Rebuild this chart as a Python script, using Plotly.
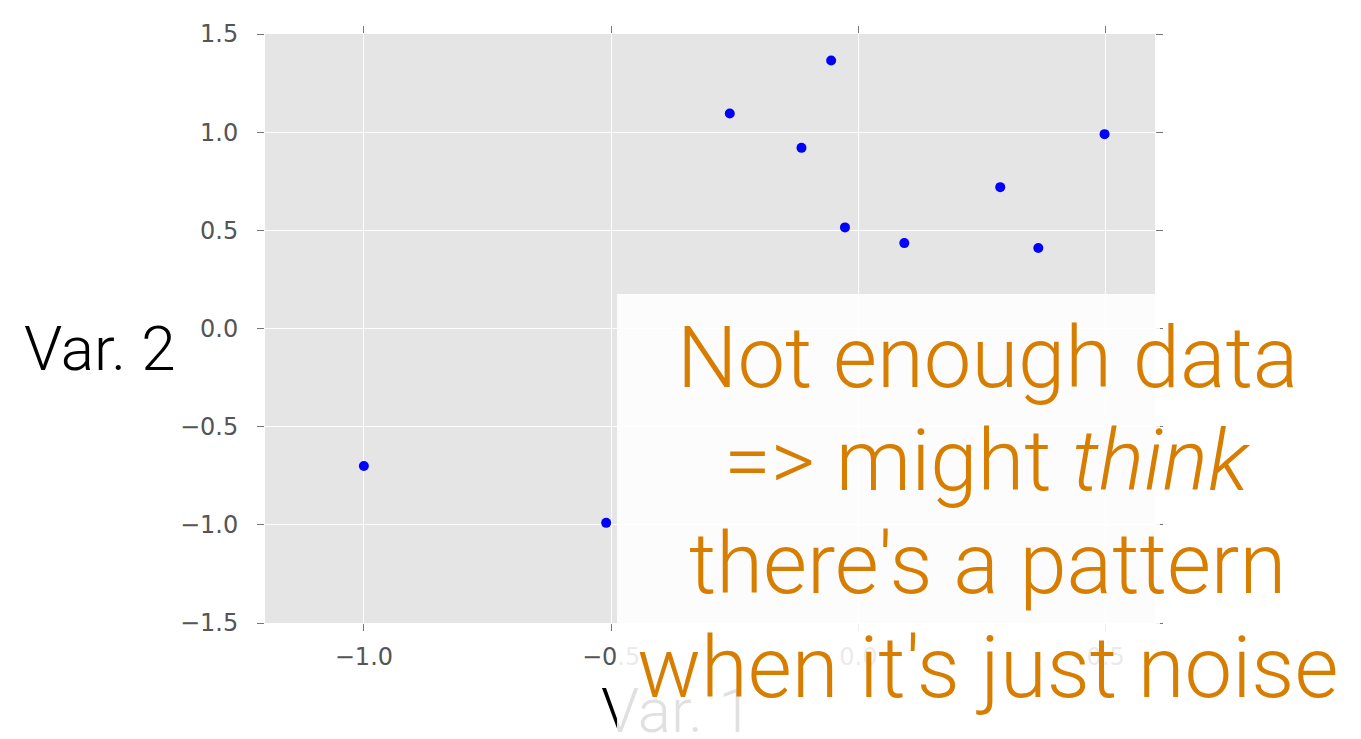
import plotly.graph_objects as go

# ---- data ----
var1 = [-1.0, -0.51, -0.26, -0.115, -0.055, -0.027, 0.093, 0.287, 0.364, 0.498]
var2 = [-0.70, -0.99, 1.095, 0.92, 1.365, 0.515, 0.435, 0.72, 0.41, 0.99]
x_ticks = [-1.0, -0.5, 0.0, 0.5]
y_ticks = [-1.5, -1.0, -0.5, 0.0, 0.5, 1.0, 1.5]
x_label = "Var. 1"
y_label = "Var. 2"
note_lines = ["Not enough data", "=> might <i>think</i>", "there's a pattern", "when it's just noise"]

W, H = 1361, 739
OFF = 8  # page body margin offset
L, R, T, B = 265 - OFF, 1155 - OFF, 29 - OFF, 623 - OFF


def px(xp):
    return (xp - OFF - L) / (R - L)


def py(yp):
    return (B - (yp - OFF)) / (B - T)


fig = go.Figure()
fig.add_trace(go.Scatter(
    x=var1, y=var2, mode="markers",
    marker=dict(color="#0000FF", size=10, line=dict(width=0)),
    showlegend=False,
))

axis_common = dict(
    showgrid=True, gridcolor="#FFFFFF", gridwidth=1.2,
    zeroline=False, showline=False,
    ticks="outside", ticklen=7, tickwidth=1, tickcolor="#777777",
    mirror="ticks",
    tickfont=dict(family="DejaVu Sans", size=24, color="#555555"),
)

fig.update_xaxes(range=[-1.2, 0.6], tickvals=x_ticks,
                 ticktext=[f"{v:.1f}".replace("-", "\u2212") for v in x_ticks],
                 ticklabelstandoff=5, **axis_common)
fig.update_yaxes(range=[-1.5, 1.5], tickvals=y_ticks,
                 ticktext=[f"{v:.1f}".replace("-", "\u2212") for v in y_ticks],
                 ticklabelstandoff=14, **axis_common)

label_font = dict(family="Roboto", size=62, color="#000000", weight=300)
note_font = dict(family="Roboto", size=85, color="#D77D00", weight=300)

annotations = [
    dict(text=y_label, xref="paper", yref="paper", x=px(100), y=py(346),
         xanchor="center", yanchor="middle", showarrow=False, font=label_font),
    dict(text=x_label, xref="paper", yref="paper", x=px(677), y=py(711),
         xanchor="center", yanchor="middle", showarrow=False, font=label_font),
    dict(text=" ", xref="paper", yref="paper", x=px(617), y=py(291),
         xanchor="left", yanchor="top", showarrow=False,
         width=543, height=470, bgcolor="rgba(255,255,255,0.88)",
         borderpad=0, borderwidth=0, font=dict(size=10)),
]
baselines = [385, 489, 593, 697]
for line, bl in zip(note_lines, baselines):
    annotations.append(dict(text=line, xref="paper", yref="paper",
                            x=px(987), y=py(bl - 29), xanchor="center",
                            yanchor="middle", showarrow=False, font=note_font))

fig.update_layout(
    width=W, height=H,
    margin=dict(l=L, r=W - R, t=T, b=H - B, pad=0),
    paper_bgcolor="#FFFFFF", plot_bgcolor="#E5E5E5",
    annotations=annotations,
)

fig.write_html("out.html")
